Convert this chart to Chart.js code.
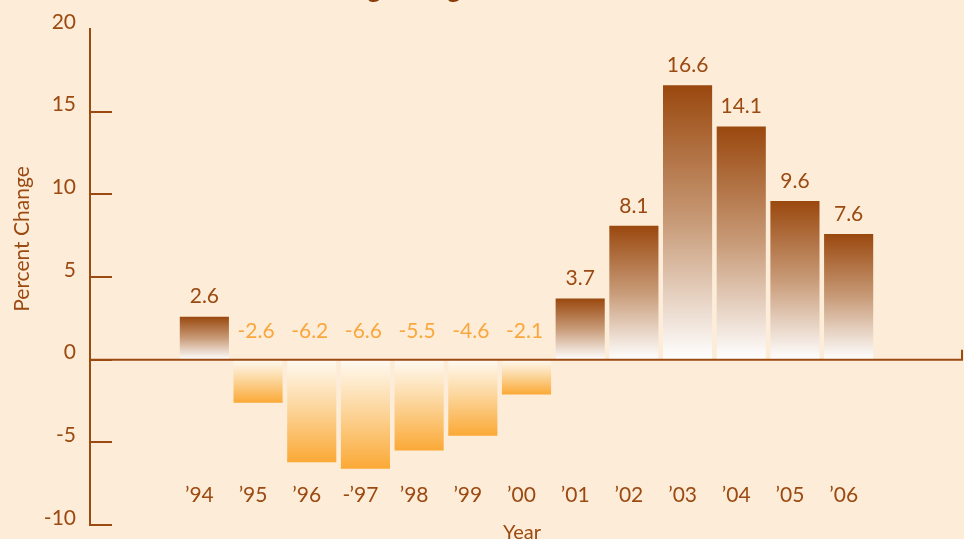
<!DOCTYPE html>
<html>
<head>
<meta charset="utf-8">
<script src="https://cdn.jsdelivr.net/npm/chart.js@4.4.1/dist/chart.umd.min.js"></script>
<style>
  html, body { margin: 0; padding: 0; background: #fdecd8; }
  #wrap { width: 964px; height: 539px; position: relative; }
</style>
</head>
<body>
<div id="wrap"><canvas id="c" width="964" height="539"></canvas></div>
<script>
// ---- data ----
const years = ['’94', '’95', '’96', '-’97', '’98', '’99', '’00', '’01', '’02', '’03', '’04', '’05', '’06'];
const values = [2.6, -2.6, -6.2, -6.6, -5.5, -4.6, -2.1, 3.7, 8.1, 16.6, 14.1, 9.6, 7.6];
const valueLabels = ['2.6', '-2.6', '-6.2', '-6.6', '-5.5', '-4.6', '-2.1', '3.7', '8.1', '16.6', '14.1', '9.6', '7.6'];
const yTicks = [-10, -5, 0, 5, 10, 15, 20];
const chartTitle = 'Housing Changes';
const xTitle = 'Year';
const yTitle = 'Percent Change';

const BROWN = '#9b4a12';
const ORANGE = '#f9a73e';
const BG = '#fdecd8';
const FONT = 'Lato, "Open Sans", sans-serif';

function barGradient(ctx) {
  const chart = ctx.chart;
  const ys = chart.scales.y;
  if (!ys || !chart.chartArea || ctx.raw === undefined) return values[ctx.dataIndex] >= 0 ? BROWN : ORANGE;
  const v = ctx.raw.y;
  const p0 = ys.getPixelForValue(0);
  const p1 = ys.getPixelForValue(v);
  const g = chart.ctx.createLinearGradient(0, p1, 0, p0);
  if (v >= 0) {
    g.addColorStop(0, '#9a480e');
    g.addColorStop(0.5, '#c89b78');
    g.addColorStop(1, '#ffffff');
  } else {
    g.addColorStop(0, '#fba936');
    g.addColorStop(0.55, '#fcd79f');
    g.addColorStop(1, '#fffaf2');
  }
  return g;
}

const decor = {
  id: 'decor',
  beforeDraw(chart) {
    const c = chart.ctx;
    c.save();
    c.fillStyle = BG;
    c.fillRect(0, 0, chart.width, chart.height);
    c.restore();
  },
  afterDatasetsDraw(chart) {
    const c = chart.ctx;
    const xs = chart.scales.x, ys = chart.scales.y;
    const area = chart.chartArea;
    c.save();
    // zero line
    const z = ys.getPixelForValue(0);
    c.strokeStyle = BROWN;
    c.lineWidth = 2;
    c.beginPath();
    c.moveTo(area.left, z);
    c.lineTo(area.right - 1, z);
    c.lineTo(area.right - 1, z - 10);
    c.stroke();
    // inner y ticks
    yTicks.forEach(t => {
      if (t === 20) return;
      const py = Math.round(ys.getPixelForValue(t));
      c.beginPath();
      c.moveTo(area.left, py);
      c.lineTo(area.left + 22, py);
      c.stroke();
    });
    // value labels
    c.font = '21px ' + FONT;
    c.textAlign = 'center';
    c.textBaseline = 'middle';
    values.forEach((v, i) => {
      const px = xs.getPixelForValue(i);
      if (v >= 0) {
        c.fillStyle = BROWN;
        c.fillText(valueLabels[i], px, ys.getPixelForValue(v) - 20);
      } else {
        c.fillStyle = ORANGE;
        c.fillText(valueLabels[i], px - 2, z - 28);
      }
    });
    // x category labels
    c.fillStyle = BROWN;
    c.font = '21px ' + FONT;
    years.forEach((y, i) => {
      c.fillText(y, xs.getPixelForValue(i) - 5, ys.getPixelForValue(-8.2));
    });
    // x title
    c.font = '20px ' + FONT;
    c.fillText(xTitle, 522, 533);
    // y title
    c.save();
    c.translate(22, 239);
    c.rotate(-Math.PI / 2);
    c.font = '21px ' + FONT;
    c.fillText(yTitle, 0, 0);
    c.restore();
    // chart title (cut off at top)
    c.font = 'bold 26px ' + FONT;
    c.textAlign = 'left';
    c.textBaseline = 'alphabetic';
    const pre = c.measureText('Housin').width + c.measureText('g').width / 2;
    c.fillStyle = '#8a3f0a';
    c.fillText(chartTitle, 374 - pre, -2);
    c.restore();
  }
};

new Chart(document.getElementById('c'), {
  type: 'bar',
  data: {
    datasets: [{
      data: values.map((v, i) => ({ x: i, y: v })),
      backgroundColor: barGradient,
      borderWidth: 0,
      barPercentage: 0.915,
      categoryPercentage: 1.0
    }]
  },
  options: {
    responsive: false,
    animation: false,
    devicePixelRatio: 1,
    layout: { padding: { top: 29, bottom: 14, left: 0, right: 1 } },
    plugins: { legend: { display: false }, tooltip: { enabled: false }, title: { display: false } },
    scales: {
      x: {
        type: 'linear',
        min: -2.13,
        max: 14.13,
        display: false,
        offset: false
      },
      y: {
        min: -10,
        max: 20,
        afterFit(scale) {
          scale.width = 90;
          scale.paddingTop = 0;
          scale.paddingBottom = 0;
        },
        afterBuildTicks(scale) { scale.ticks = yTicks.map(v => ({ value: v })); },
        grid: { display: false, drawTicks: false },
        border: { display: true, color: BROWN, width: 2 },
        ticks: {
          color: BROWN,
          padding: 14,
          labelOffset: -7,
          font: { family: FONT, size: 21 },
          callback: v => String(v)
        }
      }
    }
  },
  plugins: [decor]
});
</script>
</body>
</html>
